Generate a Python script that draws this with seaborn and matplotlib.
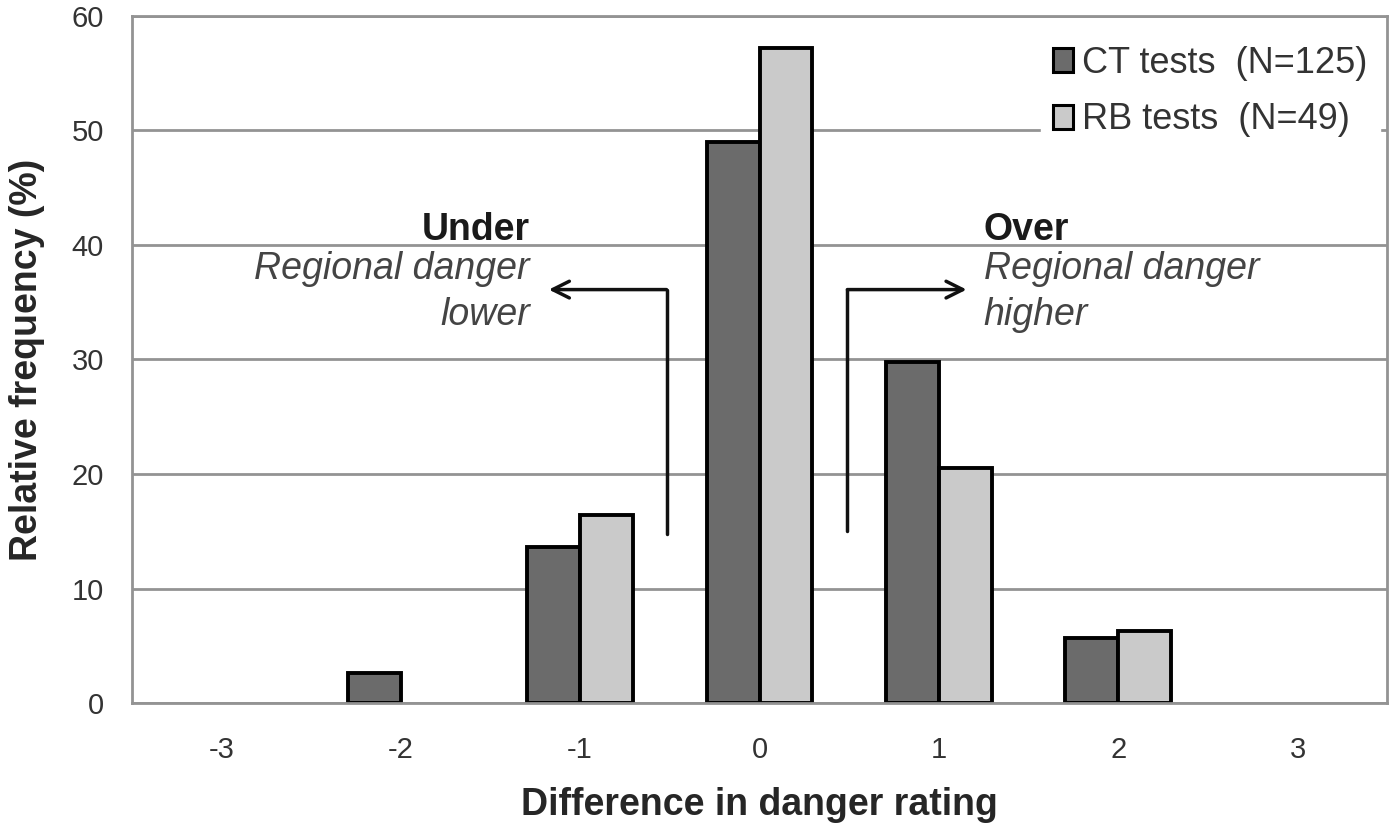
import pandas as pd
import matplotlib
matplotlib.use("Agg")
import matplotlib.pyplot as plt
import seaborn as sns

# Data
ratings = ["-3", "-2", "-1", "0", "1", "2", "3"]
ct_values = [0.0, 2.6, 13.6, 49.0, 29.8, 5.7, 0.0]
rb_values = [0.0, 0.0, 16.4, 57.2, 20.5, 6.3, 0.0]
series_names = ["CT tests  (N=125)", "RB tests  (N=49)"]

df = pd.DataFrame({
    "rating": ratings * 2,
    "freq": ct_values + rb_values,
    "test": [series_names[0]] * len(ratings) + [series_names[1]] * len(ratings),
})

sns.set_style("white")
plt.rcParams["font.family"] = ["Liberation Sans", "DejaVu Sans"]

fig = plt.figure(figsize=(14, 8.34), dpi=100)
ax = fig.add_axes([0.094, 0.157, 0.897, 0.824])

sns.barplot(data=df, x="rating", y="freq", hue="test", order=ratings,
            palette=["#6b6b6b", "#cacaca"], width=0.59, gap=0,
            edgecolor="black", linewidth=2.8, saturation=1, ax=ax)

# hide zero-height bars (their outline would show on the axis)
for p in ax.patches:
    if p.get_height() == 0:
        p.set_linewidth(0)

# -----------------------------
# Axes styling
# -----------------------------
ax.set_ylim(0, 60)
ax.set_xlim(-0.5, 6.5)
ax.set_yticks(range(0, 61, 10))
ax.yaxis.grid(True, color="#939393", linewidth=2)
ax.set_axisbelow(True)
for s in ax.spines.values():
    s.set_color("#939393")
    s.set_linewidth(2)

ax.set_xticks([i - 0.5 for i in range(8)], minor=True)
ax.tick_params(axis="x", which="major", length=0, pad=24, labelsize=21, labelcolor="#333333")
ax.tick_params(axis="x", which="minor", length=9, width=1.5, color="#939393", direction="out")
ax.tick_params(axis="y", length=10, width=1.5, color="#939393", direction="out",
               labelsize=21, pad=10, labelcolor="#333333")

ax.set_xlabel("Difference in danger rating", fontsize=27, fontweight="bold", labelpad=16)
ax.set_ylabel("Relative frequency (%)", fontsize=27, fontweight="bold", labelpad=19)

handles, labels = ax.get_legend_handles_labels()
leg = ax.legend(handles, labels, loc="upper right", bbox_to_anchor=(0.9943, 0.975),
                fontsize=26, frameon=True, fancybox=False, framealpha=1, edgecolor="white",
                handlelength=0.55, handleheight=0.65, handletextpad=0.25,
                labelspacing=0.6, borderaxespad=0, borderpad=0.35)
for h in leg.legend_handles:
    h.set_linewidth(2.2)
for t in leg.get_texts():
    t.set_color("#333333")

# -----------------------------
# Under / Over annotations
# -----------------------------
ax.text(1.72, 41.3, "Under", ha="right", va="center", fontsize=27, fontweight="bold", color="#1a1a1a")
ax.text(1.72, 35.9, "Regional danger\nlower", ha="right", va="center", fontsize=27,
        style="italic", color="#444444", linespacing=1.38)
ax.text(4.25, 41.3, "Over", ha="left", va="center", fontsize=27, fontweight="bold", color="#1a1a1a")
ax.text(4.25, 35.9, "Regional danger\nhigher", ha="left", va="center", fontsize=27,
        style="italic", color="#444444", linespacing=1.38)

ax.plot([2.484, 2.484], [14.8, 36.1], color="#111111", linewidth=2.5)
ax.annotate("", xy=(1.81, 36.1), xytext=(2.497, 36.1),
            arrowprops=dict(arrowstyle="->", color="#111111", lw=2.5, mutation_scale=30))
ax.plot([3.487, 3.487], [15.0, 36.1], color="#111111", linewidth=2.5)
ax.annotate("", xy=(4.17, 36.1), xytext=(3.474, 36.1),
            arrowprops=dict(arrowstyle="->", color="#111111", lw=2.5, mutation_scale=30))

plt.savefig("out.png", dpi=100)
